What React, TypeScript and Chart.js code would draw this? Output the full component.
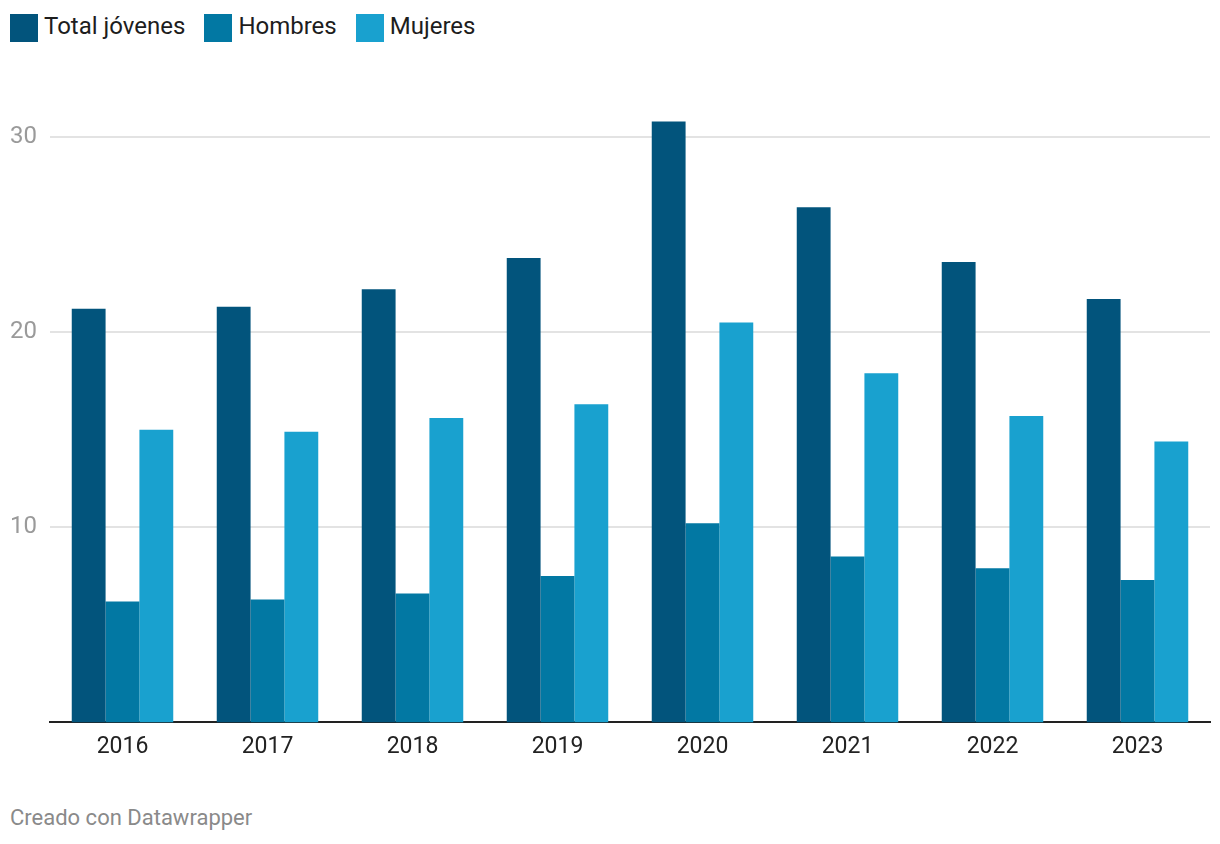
import React, { useEffect, useRef } from "react";
import { Chart, registerables } from "chart.js";

Chart.register(...registerables);

const years = ["2016", "2017", "2018", "2019", "2020", "2021", "2022", "2023"];
const totalJovenes = [21.2, 21.3, 22.2, 23.8, 30.8, 26.4, 23.6, 21.7];
const hombres = [6.2, 6.3, 6.6, 7.5, 10.2, 8.5, 7.9, 7.3];
const mujeres = [15.0, 14.9, 15.6, 16.3, 20.5, 17.9, 15.7, 14.4];
const yTicks = [10, 20, 30];

const seriesNames = ["Total jóvenes", "Hombres", "Mujeres"];
const seriesColors = ["#02547c", "#0278a3", "#19a1cf"];

const FONT = "Roboto, 'Noto Sans', sans-serif";

export default function App() {
  const ref = useRef<HTMLCanvasElement>(null);

  useEffect(() => {
    if (!ref.current) return;
    const chart = new Chart(ref.current, {
      type: "bar",
      data: {
        labels: years,
        datasets: [totalJovenes, hombres, mujeres].map((d, i) => ({
          label: seriesNames[i],
          data: d,
          backgroundColor: seriesColors[i],
          borderWidth: 0,
          categoryPercentage: 0.7,
          barPercentage: 1.0,
        })),
      },
      options: {
        animation: false,
        responsive: false,
        maintainAspectRatio: false,
        layout: { padding: { left: 10, right: 10, top: 18, bottom: 0 } },
        plugins: {
          legend: { display: false },
          tooltip: { enabled: false },
        },
        scales: {
          x: {
            grid: { display: false, drawTicks: false },
            border: { display: true, color: "#222", width: 2 },
            ticks: {
              color: "#222",
              font: { family: FONT, size: 23 },
              padding: 11,
            },
          },
          y: {
            min: 0,
            max: 32,
            afterBuildTicks: (scale: any) => {
              scale.ticks = yTicks.map((v) => ({ value: v }));
            },
            afterFit: (scale: any) => {
              scale.width = 40;
            },
            grid: { color: "#e3e3e3", lineWidth: 2, drawTicks: false },
            border: { display: false },
            ticks: {
              color: "#9a9a9a",
              font: { family: FONT, size: 24 },
              crossAlign: "far",
              padding: 0,
            },
          },
        },
      },
    });
    return () => chart.destroy();
  }, []);

  return (
    <div
      style={{
        position: "absolute",
        left: 0,
        top: 0,
        width: 1220,
        height: 844,
        background: "#fff",
        fontFamily: FONT,
      }}
    >
      <div
        style={{
          position: "absolute",
          left: 10,
          top: 14,
          display: "flex",
          alignItems: "center",
        }}
      >
        {seriesNames.map((n, i) => (
          <div
            key={n}
            style={{ display: "flex", alignItems: "center", marginRight: 19 }}
          >
            <div
              style={{
                width: 28,
                height: 28,
                background: seriesColors[i],
                marginRight: 6,
              }}
            />
            <span style={{ fontSize: 24, lineHeight: "28px", color: "#1d1d1d", position: "relative", top: -2 }}>{n}</span>
          </div>
        ))}
      </div>
      <canvas
        ref={ref}
        width={1220}
        height={692}
        style={{ position: "absolute", left: 0, top: 80, width: 1220, height: 692 }}
      />
      <div
        style={{
          position: "absolute",
          left: 10,
          top: 805,
          fontSize: 22,
          color: "#8a8a8a",
        }}
      >
        Creado con Datawrapper
      </div>
    </div>
  );
}
